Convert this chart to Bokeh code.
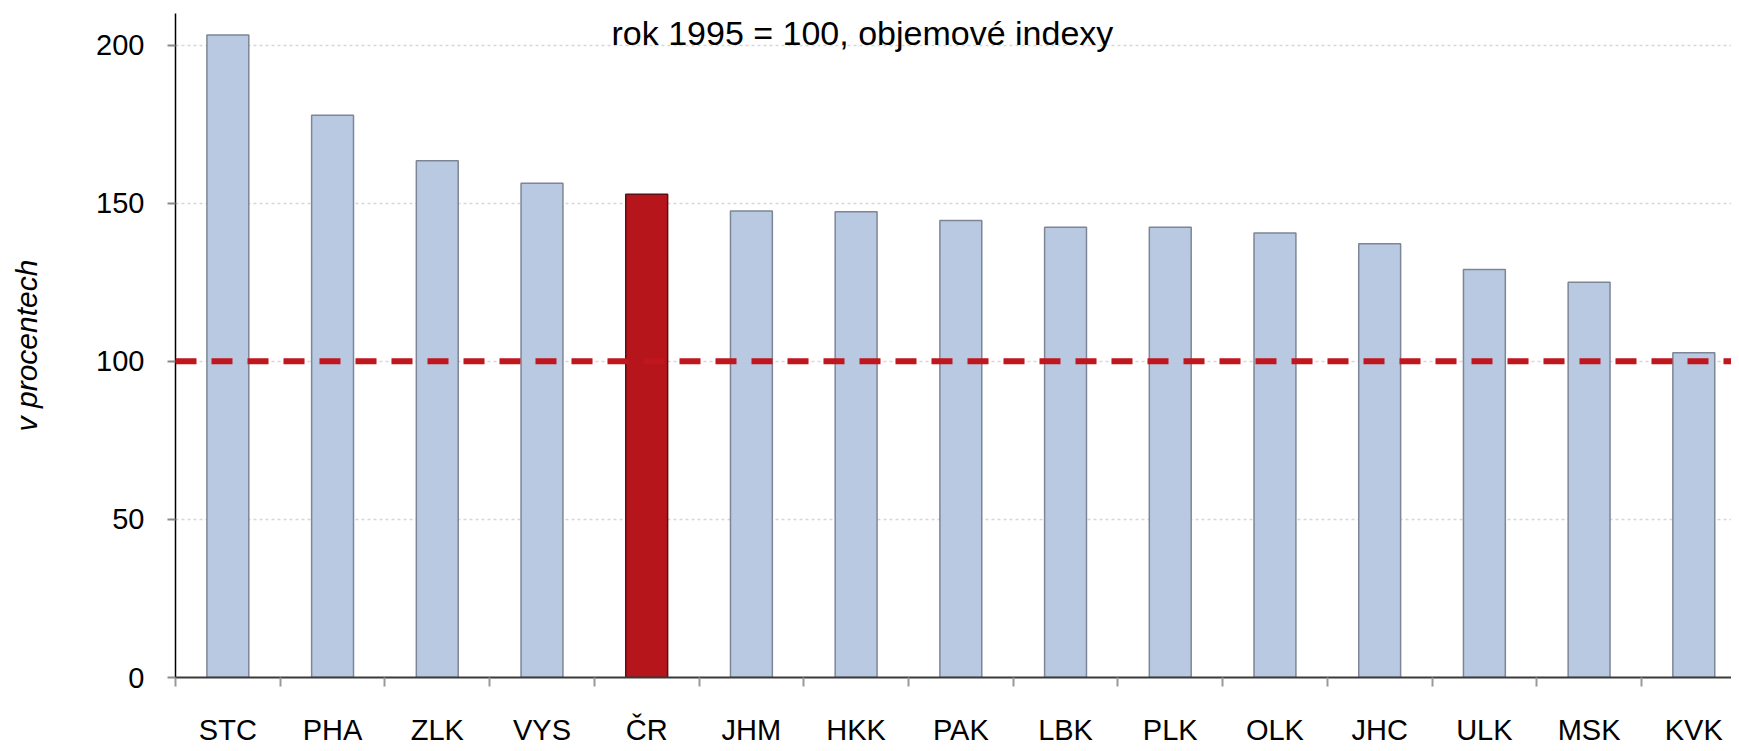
from bokeh.plotting import figure
from bokeh.models import Range1d, FixedTicker, Span, Label, ColumnDataSource
from bokeh.embed import file_html
from bokeh.resources import INLINE

# ---- data ----
regions = ["STC", "PHA", "ZLK", "VYS", "ČR", "JHM", "HKK", "PAK", "LBK", "PLK",
           "OLK", "JHC", "ULK", "MSK", "KVK"]
values = [203.2, 177.8, 163.4, 156.3, 152.8, 147.5, 147.3, 144.5, 142.4, 142.4,
          140.6, 137.2, 129.0, 125.0, 102.7]
highlight = "ČR"
y_ticks = [0, 50, 100, 150, 200]
reference_level = 100
title_text = "rok 1995 = 100, objemové indexy"
y_label_text = "v procentech"

BLUE = "#b9c9e2"
BLUE_LINE = "#7c8696"
RED = "#b5151b"
RED_LINE = "#5e0e10"
FONT = "Liberation Sans"

n = len(regions)
xs = [i + 0.5 for i in range(n)]
fills = [RED if r == highlight else BLUE for r in regions]
lines = [RED_LINE if r == highlight else BLUE_LINE for r in regions]
src = ColumnDataSource(dict(x=xs, top=values, fill=fills, line=lines, name=regions))

p = figure(width=1731, height=748, output_backend="svg", toolbar_location=None,
           x_range=Range1d(0, 14.86), y_range=Range1d(0, 210),
           min_border_left=175, min_border_top=13, min_border_bottom=70,
           min_border_right=0)
p.outline_line_color = None
p.background_fill_color = "white"

p.vbar(x="x", top="top", width=0.40, bottom=0, source=src,
       fill_color="fill", line_color="line", line_width=1.5)

p.add_layout(Span(location=reference_level, dimension="width",
                  line_color="#c0161d", line_width=6, line_dash="21 15"))

# x axis: ticks at category boundaries, labels at centres
p.xaxis.ticker = FixedTicker(ticks=xs, minor_ticks=list(range(n + 1)))
p.xaxis.major_label_overrides = {x: r for x, r in zip(xs, regions)}
p.xaxis.major_tick_line_color = None
p.xaxis.major_tick_out = 0
p.xaxis.major_tick_in = 0
p.xaxis.minor_tick_out = 9
p.xaxis.minor_tick_in = 0
p.xaxis.minor_tick_line_color = "#9a9a9a"
p.xaxis.minor_tick_line_width = 2
p.xaxis.axis_line_color = "#3a3a3a"
p.xaxis.axis_line_width = 2
p.xaxis.major_label_text_font = FONT
p.xaxis.major_label_text_font_size = "29px"
p.xaxis.major_label_text_color = "black"
p.xaxis.major_label_standoff = 27

p.yaxis.ticker = FixedTicker(ticks=y_ticks, minor_ticks=[])
p.yaxis.major_tick_out = 8
p.yaxis.major_tick_in = 0
p.yaxis.major_tick_line_color = "#8a8a8a"
p.yaxis.major_tick_line_width = 2
p.yaxis.axis_line_color = "black"
p.yaxis.axis_line_width = 1.5
p.yaxis.major_label_text_font = FONT
p.yaxis.major_label_text_font_size = "29px"
p.yaxis.major_label_text_color = "black"
p.yaxis.major_label_standoff = 23
p.yaxis.axis_label = y_label_text
p.yaxis.axis_label_text_font = FONT
p.yaxis.axis_label_text_font_style = "italic"
p.yaxis.axis_label_text_font_size = "30px"
p.yaxis.axis_label_text_color = "black"
p.yaxis.axis_label_standoff = 50

p.xgrid.grid_line_color = None
p.ygrid.grid_line_color = "#d6d6d6"
p.ygrid.grid_line_dash = "3 3"
p.ygrid.grid_line_width = 1.5

p.add_layout(Label(x=6.56, y=210, text=title_text, text_align="center",
                   text_baseline="top", text_font=FONT,
                   text_font_size="34px", text_color="black"))

open("out.html", "w").write(file_html(p, INLINE))
